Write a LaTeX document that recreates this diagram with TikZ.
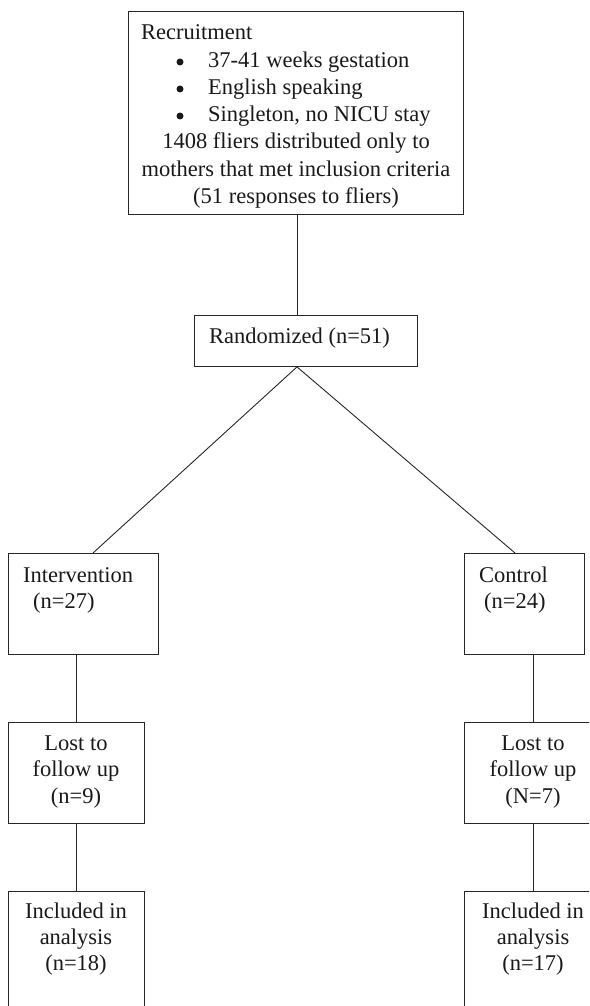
\documentclass[tikz,border=0pt]{standalone}
\usepackage{fontspec}
\setmainfont{Liberation Serif}
\begin{document}
\begin{tikzpicture}[x=1pt,y=-1pt,
  box/.style={draw=black!85, line width=0.9pt, inner sep=0pt, anchor=north west},
  conn/.style={draw=black!85, line width=0.9pt},
  bul/.style={circle, fill=black!90, inner sep=0pt, minimum size=7pt},
  txt/.style={inner sep=0pt, text=black!90, font=\fontsize{22.5}{27}\selectfont},
  lt/.style={txt, anchor=base west},
  ct/.style={txt, anchor=base}]
\path[use as bounding box] (0,0) rectangle (589,1006);
\clip (0,0) rectangle (589,1006);
% boxes
\node[box, minimum width=335pt, minimum height=203pt] (rec) at (128,11) {};
\node[box, minimum width=223pt, minimum height=51pt] (rnd) at (194,315) {};
\node[box, minimum width=150pt, minimum height=101pt] (int) at (8,553) {};
\node[box, minimum width=120pt, minimum height=101pt] (ctl) at (464,553) {};
\node[box, minimum width=136pt, minimum height=101pt] (lostL) at (8,722) {};
\node[box, minimum width=138pt, minimum height=101pt] (lostR) at (464,722) {};
\node[box, minimum width=136pt, minimum height=150pt] (inclL) at (8,891) {};
\node[box, minimum width=138pt, minimum height=150pt] (inclR) at (464,891) {};
% texts
\node[lt] (t1) at (141,40) {Recruitment};
\node[bul] (b1) at (180,62) {};
\node[bul] (b2) at (180,89) {};
\node[bul] (b3) at (180,116) {};
\node[lt] (t2) at (208,68) {37-41 weeks gestation};
\node[lt] (t3) at (208,95) {English speaking};
\node[lt] (t4) at (208,122) {Singleton, no NICU stay};
\node[ct] (t5) at (296,149) {1408 fliers distributed only to};
\node[ct] (t6) at (296,176) {mothers that met inclusion criteria};
\node[ct] (t7) at (296,203) {(51 responses to fliers)};
\node[lt] (t8) at (209,343) {Randomized (n=51)};
\node[lt] (t9) at (23,582) {Intervention};
\node[lt] (t10) at (33,608) {(n=27)};
\node[lt] (t11) at (479,582) {Control};
\node[lt] (t12) at (484,608) {(n=24)};
\node[ct] (t13) at (76,750) {Lost to};
\node[ct] (t14) at (76,776) {follow up};
\node[ct] (t15) at (76,803) {(n=9)};
\node[ct] (t16) at (533,750) {Lost to};
\node[ct] (t17) at (533,776) {follow up};
\node[ct] (t18) at (533,803) {(N=7)};
\node[ct] (t19) at (76,918) {Included in};
\node[ct] (t20) at (76,944) {analysis};
\node[ct] (t21) at (76,970) {(n=18)};
\node[ct] (t22) at (533,918) {Included in};
\node[ct] (t23) at (533,944) {analysis};
\node[ct] (t24) at (533,970) {(n=17)};
% connector anchors
\coordinate (apex) at (297,366);
\coordinate (dL) at (93,553);
\coordinate (dR) at (515,553);
\coordinate (vL) at (76,0);
\coordinate (vR) at (533,0);
% connectors
\draw[conn] (rec.south -| apex) -- (rnd.north -| apex);
\draw[conn] (rnd.south -| apex) -- (int.north -| dL);
\draw[conn] (rnd.south -| apex) -- (ctl.north -| dR);
\draw[conn] (int.south -| vL) -- (lostL.north -| vL);
\draw[conn] (lostL.south -| vL) -- (inclL.north -| vL);
\draw[conn] (ctl.south -| vR) -- (lostR.north -| vR);
\draw[conn] (lostR.south -| vR) -- (inclR.north -| vR);
\end{tikzpicture}
\end{document}
